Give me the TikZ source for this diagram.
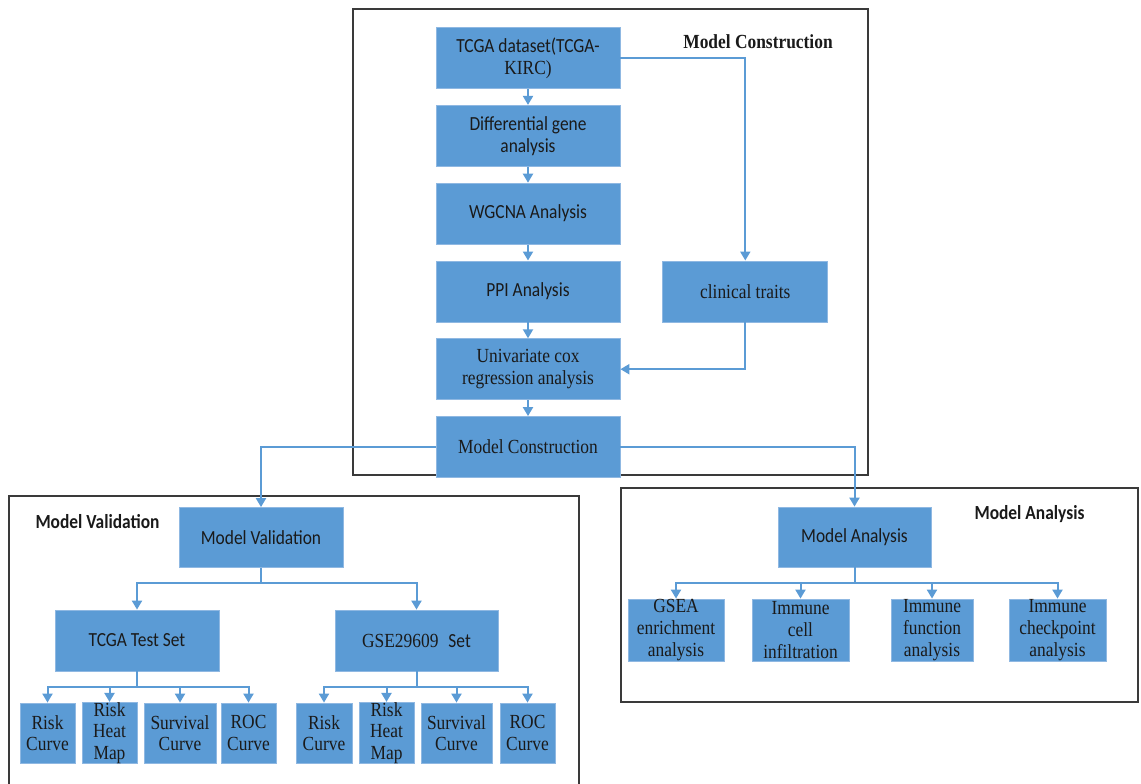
\documentclass[tikz,border=0pt]{standalone}
\usepackage{fontspec}
\setmainfont{Liberation Serif}[FakeStretch=0.87]
\setsansfont{Carlito}[FakeStretch=0.87]
\usetikzlibrary{arrows.meta, positioning}
\definecolor{boxblue}{HTML}{5B9BD5}
\definecolor{boxedge}{HTML}{8FB8E2}
\definecolor{inktext}{HTML}{1A1A1A}
\definecolor{panelgray}{HTML}{3A3A3A}

\begin{document}
\begin{tikzpicture}[x=0.5pt, y=-0.5pt,
            every node/.style = {font=\fontsize{10}{11}\selectfont, text=inktext},
            stage/.style = {draw=boxedge, line width=0.4pt, fill=boxblue, align=center, inner sep=0pt, minimum height=30.5pt},
            sansstage/.style = {stage, font=\fontsize{10}{11}\selectfont\sffamily},
            leaf/.style = {stage, font=\fontsize{10}{10.8}\selectfont, minimum height=30pt},
            link/.style = {draw=boxblue, line width=1pt, -{Triangle[width=5pt,length=4.5pt]}},
            trunk/.style = {draw=boxblue, line width=1pt},
            panel/.style = {draw=panelgray, line width=0.8pt},
            title/.style = {font=\fontsize{10}{11}\selectfont\bfseries}]
            \useasboundingbox (0,0) rectangle (1141,783);
            % panels
            \draw[panel] (353,9) rectangle (868,475);
            \draw[panel] (9,790) -- (9,496) -- (579,496) -- (579,790);
            \draw[panel] (621,488) rectangle (1138,702);
            \node[title] (contitle) at (758,42) {Model Construction};
            \node[title, font=\fontsize{10}{11}\selectfont\sffamily\bfseries] (valtitle) at (97.5,522) {Model Validation};
            \node[title, font=\fontsize{10}{11}\selectfont\sffamily\bfseries] (anatitle) at (1029.5,514) {Model Analysis};

            % model construction
            \node[stage, minimum width=92pt] (tcga) at (528,58) {{\sffamily TCGA dataset(TCGA-}\\KIRC)};
            \node[sansstage, minimum width=92pt, below=8pt of tcga] (diff) {Differential gene\\analysis};
            \node[sansstage, minimum width=92pt, below=8pt of diff] (wgcna) {WGCNA Analysis};
            \node[sansstage, minimum width=92pt, below=8pt of wgcna] (ppi) {PPI Analysis};
            \node[stage, minimum width=92pt, below=8pt of ppi] (uni) {Univariate cox\\regression analysis};
            \node[stage, minimum width=92pt, below=8pt of uni] (mcon) {Model Construction};
            \node[stage, minimum width=82.5pt, right=21pt of ppi] (clin) {clinical traits};

            % model validation
            \node[sansstage, minimum width=82pt, minimum height=30pt] (mval) at (261,537.5) {Model Validation};
            \node[sansstage, minimum width=82pt] (tset) at (137,640.5) {TCGA Test Set};
            \node[stage, minimum width=81.5pt] (gset) at (416.5,640.5) {GSE29609\hspace{0.5em}\textsf{Set}};
            \node[leaf, minimum width=27.5pt] (tl1) at (47.5,733) {Risk\\Curve};
            \node[leaf, minimum width=27.5pt] (tl2) at (109.5,733) {Risk\\Heat\\Map};
            \node[leaf, minimum width=36pt] (tl3) at (180,733) {Survival\\Curve};
            \node[leaf, minimum width=27.5pt] (tl4) at (248.5,733) {ROC\\Curve};
            \node[leaf, minimum width=28pt] (gl1) at (324,733) {Risk\\Curve};
            \node[leaf, minimum width=27.5pt] (gl2) at (386.5,733) {Risk\\Heat\\Map};
            \node[leaf, minimum width=35.5pt] (gl3) at (456.5,733) {Survival\\Curve};
            \node[leaf, minimum width=27.5pt] (gl4) at (527.5,733) {ROC\\Curve};

            % model analysis
            \node[sansstage, minimum width=76.5pt, minimum height=30pt] (mana) at (854.5,537) {Model Analysis};
            \node[leaf, minimum width=48pt, minimum height=31pt] (al1) at (676,630) {GSEA\\enrichment\\analysis};
            \node[leaf, minimum width=48.5pt, minimum height=31pt] (al2) at (800.5,630) {Immune\\cell\\infiltration};
            \node[leaf, minimum width=41pt, minimum height=31pt] (al3) at (932,630) {Immune\\function\\analysis};
            \node[leaf, minimum width=48.5pt, minimum height=31pt] (al4) at (1057.5,630) {Immune\\checkpoint\\analysis};

            % connectors
            \draw[link] (tcga) -- (diff);
            \draw[link] (diff) -- (wgcna);
            \draw[link] (wgcna) -- (ppi);
            \draw[link] (ppi) -- (uni);
            \draw[link] (uni) -- (mcon);
            \draw[link] (tcga.east) -| (clin.north);
            \draw[link] (clin.south) |- (uni.east);
            \draw[link] (mcon.west) -| (mval.north);
            \draw[link] (mcon.east) -| (mana.north);

            \coordinate (vfork) at (261,583);
            \draw[trunk] (mval.south) -- (vfork);
            \draw[link] (vfork) -| (tset.north);
            \draw[link] (vfork) -| (gset.north);
            \coordinate (tfork) at (137,687);
            \draw[trunk] (tset.south) -- (tfork);
            \foreach \leafname in {tl1,tl2,tl3,tl4}
                \draw[link] (tfork) -| (\leafname.north);
            \coordinate (gfork) at (416.5,687);
            \draw[trunk] (gset.south) -- (gfork);
            \foreach \leafname in {gl1,gl2,gl3,gl4}
                \draw[link] (gfork) -| (\leafname.north);

            \coordinate (afork) at (854.5,583);
            \draw[trunk] (mana.south) -- (afork);
            \foreach \leafname in {al1,al2,al3,al4}
                \draw[link] (afork) -| (\leafname.north);
\end{tikzpicture}
\end{document}
